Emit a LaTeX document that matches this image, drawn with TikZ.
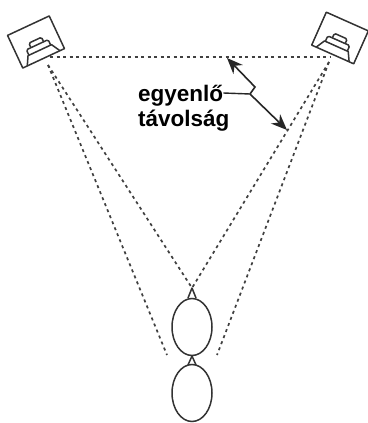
\documentclass[tikz,border=0pt]{standalone}
\usepackage{fontspec}
\setmainfont{Liberation Sans}
\usetikzlibrary{arrows.meta,shapes.geometric}
\tikzset{
    sight/.style={line width=1.7pt, dash pattern=on 3pt off 3.5pt, black!75},
    pointer/.style={line width=1.6pt, -{Stealth[length=16pt,width=13pt]}, black!85},
    head/.style={draw, ellipse, line width=1.5pt, minimum width=40pt, minimum height=57pt, inner sep=0pt, black!80},
    outline/.style={line width=1.5pt, black!80, line join=round},
    caption/.style={font=\fontsize{22.5}{25}\selectfont\bfseries, inner sep=0pt, anchor=base west},
    speaker/.pic={
        \draw[outline] (-23,-18) rectangle (23,18);
        \draw[outline] (-18,18) -- (-13,9) -- (13,9) -- (18,18);
        \draw[outline, rounded corners=1.5pt] (-12,9) -- (-12,3) -- (12,3) -- (12,9);
        \draw[outline, rounded corners=1.5pt] (-7,3) -- (-7,-2) -- (7,-2) -- (7,3);
    }
}
\begin{document}
\begin{tikzpicture}[x=1pt,y=-1pt]
    \useasboundingbox (0,0) rectangle (367,423);
    \fill[white] (0,0) rectangle (367,423);
    % speakers
    \pic[rotate=25] at (36,42) {speaker};
    \pic[rotate=-24] at (340,38) {speaker};
    % listeners
    \node[head] (front) at (192,327) {};
    \node[head] (back) at (192,393) {};
    \coordinate (leftout) at (50,57);
    \coordinate (rightout) at (330,57);
    \coordinate (leftbeam) at (48,65);
    \coordinate (rightbeam) at (329,62);
    \coordinate (apex) at (192,288);
    \coordinate (leftear) at (167,355);
    \coordinate (rightear) at (217,355);
    \coordinate (nosetop) at (192,356);
    % noses
    \draw[outline] (188,298) -- (apex) -- (196,298);
    \draw[outline] (188,365) -- (nosetop) -- (196,365);
    % lines of sight
    \draw[sight] (leftout) -- (rightout);
    \draw[sight] (leftbeam) -- (apex);
    \draw[sight] (leftbeam) -- (leftear);
    \draw[sight] (rightbeam) -- (apex);
    \draw[sight] (rightbeam) -- (rightear);
    % label
    \node[caption] (same) at (138,101) {egyenlő};
    \node[caption] (dist) at (138,126) {távolság};
    \coordinate (elbow) at (250,94);
    \coordinate (upper) at (227,58);
    \coordinate (lower) at (287,130);
    \draw[line width=1.4pt, black!85] (same.base east |- 0,93) -- (elbow);
    \draw[pointer] (elbow) -- (255,87) -- (upper);
    \draw[pointer] (elbow) -- (lower);
\end{tikzpicture}
\end{document}
